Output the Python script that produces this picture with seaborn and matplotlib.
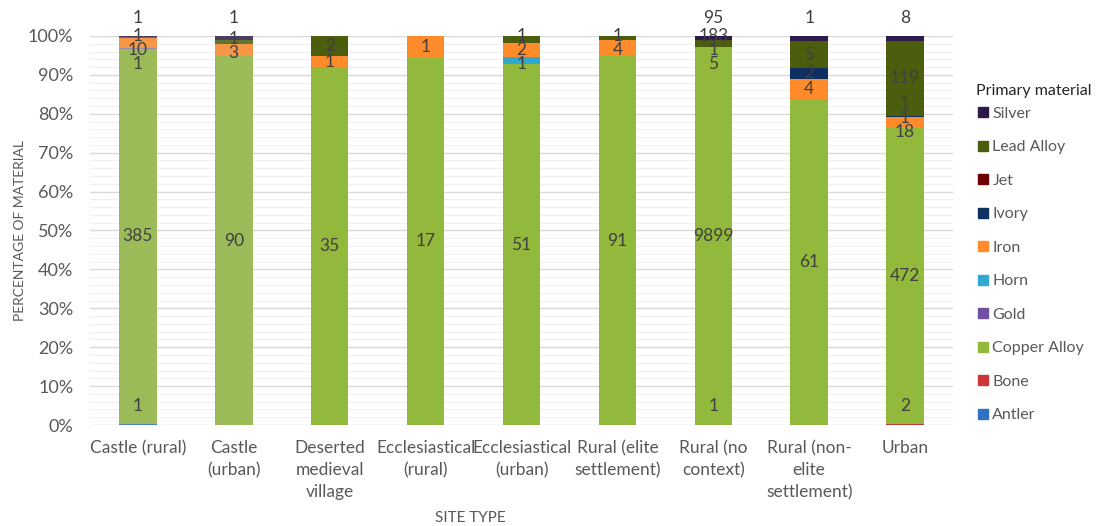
import numpy as np
import pandas as pd
import matplotlib
matplotlib.use("Agg")
import matplotlib.pyplot as plt
from matplotlib.lines import Line2D
from matplotlib.ticker import MultipleLocator
import seaborn as sns

# site types (x axis) and material series, stacked bottom to top
sites = ["Castle (rural)", "Castle\n(urban)", "Deserted\nmedieval\nvillage",
         "Ecclesiastical\n(rural)", "Ecclesiastical\n(urban)", "Rural (elite\nsettlement)",
         "Rural (no\ncontext)", "Rural (non-\nelite\nsettlement)", "Urban"]
materials = ["Antler", "Bone", "Copper Alloy", "Gold", "Horn",
             "Iron", "Ivory", "Jet", "Lead Alloy", "Silver"]

# object counts per site
antler = [1, 0, 0, 0, 0, 0, 1, 0, 0]
bone = [0, 0, 0, 0, 0, 0, 0, 0, 2]
copper_alloy = [385, 90, 35, 17, 51, 91, 9899, 61, 472]
gold = [1, 0, 0, 0, 0, 0, 0, 0, 0]
horn = [0, 0, 0, 0, 1, 0, 0, 0, 0]
iron = [10, 3, 1, 1, 2, 4, 5, 4, 18]
ivory = [0, 0, 0, 0, 0, 0, 0, 2, 1]
jet = [0, 0, 0, 0, 0, 0, 1, 0, 1]
lead_alloy = [1, 1, 2, 0, 1, 1, 183, 5, 119]
silver = [1, 1, 0, 0, 0, 0, 95, 1, 8]

counts = pd.DataFrame({
    "Antler": antler, "Bone": bone, "Copper Alloy": copper_alloy, "Gold": gold,
    "Horn": horn, "Iron": iron, "Ivory": ivory, "Jet": jet,
    "Lead Alloy": lead_alloy, "Silver": silver,
}, index=sites)
pct = counts.div(counts.sum(axis=1), axis=0) * 100

colors = {
    "Antler": "#2F72C4", "Bone": "#C9373A", "Copper Alloy": "#92B83C", "Gold": "#7050A2",
    "Horn": "#2FA9CD", "Iron": "#FF8B2A", "Ivory": "#0D2F62", "Jet": "#6E0000",
    "Lead Alloy": "#4A5E0E", "Silver": "#2E1A4A",
}
# the two castle columns use the softer palette
castle_colors = {
    "Antler": "#4F81BD", "Bone": "#C0504D", "Copper Alloy": "#9BBB59", "Gold": "#9A8AAE",
    "Horn": "#4BACC6", "Iron": "#F79646", "Ivory": "#1F497D", "Jet": "#772C2A",
    "Lead Alloy": "#5F7530", "Silver": "#4D3B62",
}

sns.set_style("white")
plt.rcParams["font.family"] = ["Lato", "DejaVu Sans"]

fig = plt.figure(figsize=(10.96, 5.26), dpi=100)
ax = fig.add_axes([90 / 1096, 101 / 526, 863 / 1096, 389 / 526])

bottom = np.zeros(len(sites))
for m in materials:
    vals = pct[m].values
    sns.barplot(x=sites, y=vals, bottom=bottom.copy(), color=colors[m], saturation=1,
                width=0.39, errorbar=None, linewidth=0, ax=ax, zorder=3)
    cont = ax.containers[-1]
    cont[0].set_facecolor(castle_colors[m])
    cont[1].set_facecolor(castle_colors[m])
    bottom += vals


def spread(items, gap, top):
    # push overlapping labels apart around their mean
    groups = [[it] for it in items]
    while True:
        pos = []
        for g in groups:
            n = len(g)
            ys = np.mean([it[0] for it in g]) + (np.arange(n) - (n - 1) / 2) * gap
            ys = ys + min(0, top - ys[-1])
            pos.append(ys)
        merged = False
        for k in range(len(groups) - 1):
            if pos[k + 1][0] - pos[k][-1] < gap - 1e-9:
                groups[k] = groups[k] + groups.pop(k + 1)
                merged = True
                break
        if not merged:
            break
    return [(it[1], y) for g, p in zip(groups, pos) for it, y in zip(g, p)]


lab_size = 12.5
for i, site in enumerate(sites):
    cum = 0
    items = []
    for m in materials:
        v = pct.loc[site, m]
        c = counts.loc[site, m]
        if c > 0:
            mid = cum + v / 2
            if m == "Silver":
                ax.text(i, 104.5, str(c), ha="center", va="center", fontsize=lab_size,
                        color="#404040", clip_on=False, zorder=5)
            else:
                items.append((max(mid, 5.0), str(c)))
        cum += v
    for txt, y in spread(sorted(items), 3.6, 100.0):
        ax.text(i, y, txt, ha="center", va="center", fontsize=lab_size,
                color="#404040", clip_on=False, zorder=5)

ax.set_ylim(0, 100)
ax.set_xlim(-0.5, len(sites) - 0.5)
ax.set_yticks(range(0, 101, 10))
ax.set_yticklabels([f"{t}%" for t in range(0, 101, 10)])
ax.yaxis.set_minor_locator(MultipleLocator(2))
ax.grid(axis="y", which="major", color="#D9D9D9", linewidth=1, zorder=0)
ax.grid(axis="y", which="minor", color="#F0F0F0", linewidth=0.8, zorder=0)
ax.set_axisbelow(True)
for s in ax.spines.values():
    s.set_visible(False)
ax.tick_params(axis="both", which="both", length=0, labelcolor="#595959")
ax.tick_params(axis="y", pad=12, labelsize=13)
ax.tick_params(axis="x", pad=11, labelsize=12.5)
for lab in ax.get_xticklabels():
    lab.set_linespacing(1.45)

ax.set_xlabel("")
ax.set_ylabel("PERCENTAGE OF MATERIAL", fontsize=10, color="#595959")
ax.yaxis.set_label_coords(-64 / 863, 0.5)
fig.text(470 / 1096, 1 - 518 / 526, "SITE TYPE", ha="center", va="center",
         fontsize=11, color="#595959")

handles = [Line2D([], [], marker="s", linestyle="", color=colors[m], markersize=7)
           for m in materials[::-1]]
leg = fig.legend(handles, materials[::-1], title="Primary material", loc="upper left",
                 bbox_to_anchor=(962 / 1096, 1 - 70 / 526), frameon=False, fontsize=11.5,
                 title_fontsize=11.5, labelspacing=1.21, handlelength=0.8,
                 handletextpad=0.2, alignment="left")
leg._legend_box.sep = 1.21 * 11.5 - 8
for t in leg.get_texts():
    t.set_color("#595959")
leg.get_title().set_color("#262626")

fig.savefig("out.png", dpi=100)
